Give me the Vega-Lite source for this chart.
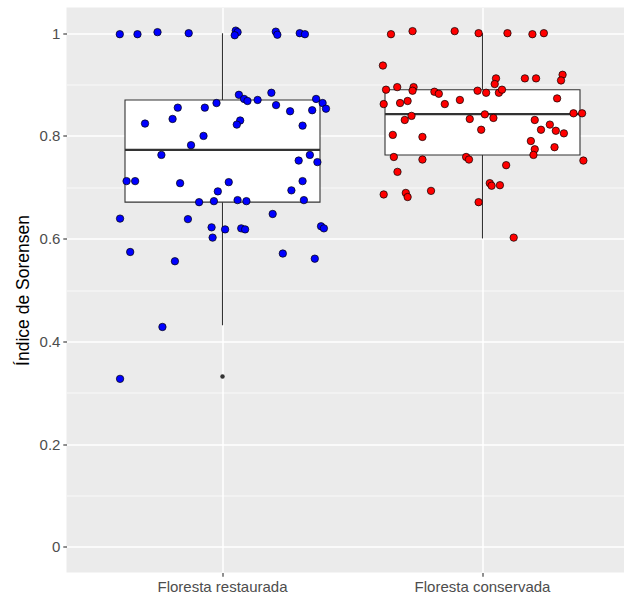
{
  "$schema": "https://vega.github.io/schema/vega-lite/v6.json",
  "width": 557.5,
  "height": 565,
  "autosize": {"type": "none"},
  "padding": {"left": 66.5, "top": 7.5, "right": 0, "bottom": 24.5},
  "background": "white",
  "config": {
    "view": {"fill": "#EBEBEB", "stroke": null},
    "axis": {
      "labelFont": "Liberation Sans",
      "titleFont": "Liberation Sans",
      "labelColor": "#4D4D4D",
      "labelFontSize": 15,
      "tickColor": "#333333",
      "tickSize": 3.7,
      "tickWidth": 1.1,
      "labelPadding": 2.9,
      "domain": false,
      "gridColor": "#FFFFFF",
      "gridWidth": 1.5
    }
  },
  "datasets": {
    "box": [
      {"grupo": "Floresta restaurada", "lower": 0.4315, "q1": 0.671, "median": 0.773, "q3": 0.870, "upper": 1.0},
      {"grupo": "Floresta conservada", "lower": 0.6004, "q1": 0.7627, "median": 0.8426, "q3": 0.890, "upper": 1.0}
    ],
    "outliers": [
      {"grupo": "Floresta restaurada", "valor": 0.3316}
    ],
    "pts": [
      {"grupo": "Floresta restaurada", "valor": 0.998, "jitter": -0.395},
      {"grupo": "Floresta restaurada", "valor": 0.998, "jitter": -0.327},
      {"grupo": "Floresta restaurada", "valor": 1.002, "jitter": -0.250},
      {"grupo": "Floresta restaurada", "valor": 1.000, "jitter": -0.130},
      {"grupo": "Floresta restaurada", "valor": 1.005, "jitter": 0.051},
      {"grupo": "Floresta restaurada", "valor": 1.002, "jitter": 0.058},
      {"grupo": "Floresta restaurada", "valor": 0.996, "jitter": 0.047},
      {"grupo": "Floresta restaurada", "valor": 1.003, "jitter": 0.205},
      {"grupo": "Floresta restaurada", "valor": 0.997, "jitter": 0.211},
      {"grupo": "Floresta restaurada", "valor": 1.000, "jitter": 0.297},
      {"grupo": "Floresta restaurada", "valor": 0.998, "jitter": 0.317},
      {"grupo": "Floresta restaurada", "valor": 0.880, "jitter": 0.063},
      {"grupo": "Floresta restaurada", "valor": 0.872, "jitter": 0.083},
      {"grupo": "Floresta restaurada", "valor": 0.868, "jitter": 0.096},
      {"grupo": "Floresta restaurada", "valor": 0.870, "jitter": 0.135},
      {"grupo": "Floresta restaurada", "valor": 0.884, "jitter": 0.188},
      {"grupo": "Floresta restaurada", "valor": 0.872, "jitter": 0.360},
      {"grupo": "Floresta restaurada", "valor": 0.864, "jitter": 0.385},
      {"grupo": "Floresta restaurada", "valor": 0.853, "jitter": 0.398},
      {"grupo": "Floresta restaurada", "valor": 0.855, "jitter": -0.172},
      {"grupo": "Floresta restaurada", "valor": 0.855, "jitter": -0.068},
      {"grupo": "Floresta restaurada", "valor": 0.864, "jitter": -0.023},
      {"grupo": "Floresta restaurada", "valor": 0.860, "jitter": 0.206},
      {"grupo": "Floresta restaurada", "valor": 0.848, "jitter": 0.260},
      {"grupo": "Floresta restaurada", "valor": 0.850, "jitter": 0.345},
      {"grupo": "Floresta restaurada", "valor": 0.824, "jitter": -0.298},
      {"grupo": "Floresta restaurada", "valor": 0.833, "jitter": -0.192},
      {"grupo": "Floresta restaurada", "valor": 0.830, "jitter": 0.068},
      {"grupo": "Floresta restaurada", "valor": 0.822, "jitter": 0.055},
      {"grupo": "Floresta restaurada", "valor": 0.820, "jitter": 0.308},
      {"grupo": "Floresta restaurada", "valor": 0.800, "jitter": -0.073},
      {"grupo": "Floresta restaurada", "valor": 0.782, "jitter": -0.121},
      {"grupo": "Floresta restaurada", "valor": 0.763, "jitter": -0.235},
      {"grupo": "Floresta restaurada", "valor": 0.752, "jitter": 0.293},
      {"grupo": "Floresta restaurada", "valor": 0.763, "jitter": 0.336},
      {"grupo": "Floresta restaurada", "valor": 0.749, "jitter": 0.365},
      {"grupo": "Floresta restaurada", "valor": 0.712, "jitter": -0.369},
      {"grupo": "Floresta restaurada", "valor": 0.712, "jitter": -0.336},
      {"grupo": "Floresta restaurada", "valor": 0.708, "jitter": -0.163},
      {"grupo": "Floresta restaurada", "valor": 0.710, "jitter": 0.024},
      {"grupo": "Floresta restaurada", "valor": 0.692, "jitter": -0.018},
      {"grupo": "Floresta restaurada", "valor": 0.712, "jitter": 0.308},
      {"grupo": "Floresta restaurada", "valor": 0.694, "jitter": 0.265},
      {"grupo": "Floresta restaurada", "valor": 0.671, "jitter": -0.090},
      {"grupo": "Floresta restaurada", "valor": 0.673, "jitter": -0.033},
      {"grupo": "Floresta restaurada", "valor": 0.675, "jitter": 0.058},
      {"grupo": "Floresta restaurada", "valor": 0.673, "jitter": 0.092},
      {"grupo": "Floresta restaurada", "valor": 0.675, "jitter": 0.313},
      {"grupo": "Floresta restaurada", "valor": 0.639, "jitter": -0.394},
      {"grupo": "Floresta restaurada", "valor": 0.638, "jitter": -0.133},
      {"grupo": "Floresta restaurada", "valor": 0.648, "jitter": 0.193},
      {"grupo": "Floresta restaurada", "valor": 0.622, "jitter": -0.042},
      {"grupo": "Floresta restaurada", "valor": 0.618, "jitter": 0.010},
      {"grupo": "Floresta restaurada", "valor": 0.620, "jitter": 0.072},
      {"grupo": "Floresta restaurada", "valor": 0.618, "jitter": 0.087},
      {"grupo": "Floresta restaurada", "valor": 0.624, "jitter": 0.379},
      {"grupo": "Floresta restaurada", "valor": 0.620, "jitter": 0.390},
      {"grupo": "Floresta restaurada", "valor": 0.602, "jitter": -0.038},
      {"grupo": "Floresta restaurada", "valor": 0.574, "jitter": -0.355},
      {"grupo": "Floresta restaurada", "valor": 0.556, "jitter": -0.183},
      {"grupo": "Floresta restaurada", "valor": 0.571, "jitter": 0.232},
      {"grupo": "Floresta restaurada", "valor": 0.561, "jitter": 0.355},
      {"grupo": "Floresta restaurada", "valor": 0.428, "jitter": -0.231},
      {"grupo": "Floresta restaurada", "valor": 0.327, "jitter": -0.394},
      {"grupo": "Floresta conservada", "valor": 0.998, "jitter": -0.352},
      {"grupo": "Floresta conservada", "valor": 1.004, "jitter": -0.269},
      {"grupo": "Floresta conservada", "valor": 1.004, "jitter": -0.107},
      {"grupo": "Floresta conservada", "valor": 1.000, "jitter": -0.015},
      {"grupo": "Floresta conservada", "valor": 1.000, "jitter": 0.096},
      {"grupo": "Floresta conservada", "valor": 0.998, "jitter": 0.192},
      {"grupo": "Floresta conservada", "valor": 1.000, "jitter": 0.236},
      {"grupo": "Floresta conservada", "valor": 0.937, "jitter": -0.383},
      {"grupo": "Floresta conservada", "valor": 0.912, "jitter": 0.052},
      {"grupo": "Floresta conservada", "valor": 0.901, "jitter": 0.047},
      {"grupo": "Floresta conservada", "valor": 0.912, "jitter": 0.163},
      {"grupo": "Floresta conservada", "valor": 0.912, "jitter": 0.206},
      {"grupo": "Floresta conservada", "valor": 0.919, "jitter": 0.308},
      {"grupo": "Floresta conservada", "valor": 0.908, "jitter": 0.302},
      {"grupo": "Floresta conservada", "valor": 0.890, "jitter": -0.371},
      {"grupo": "Floresta conservada", "valor": 0.895, "jitter": -0.328},
      {"grupo": "Floresta conservada", "valor": 0.895, "jitter": -0.265},
      {"grupo": "Floresta conservada", "valor": 0.888, "jitter": -0.269},
      {"grupo": "Floresta conservada", "valor": 0.886, "jitter": -0.185},
      {"grupo": "Floresta conservada", "valor": 0.882, "jitter": -0.168},
      {"grupo": "Floresta conservada", "valor": 0.888, "jitter": -0.019},
      {"grupo": "Floresta conservada", "valor": 0.884, "jitter": 0.014},
      {"grupo": "Floresta conservada", "valor": 0.884, "jitter": 0.063},
      {"grupo": "Floresta conservada", "valor": 0.890, "jitter": 0.075},
      {"grupo": "Floresta conservada", "valor": 0.862, "jitter": -0.380},
      {"grupo": "Floresta conservada", "valor": 0.864, "jitter": -0.317},
      {"grupo": "Floresta conservada", "valor": 0.868, "jitter": -0.288},
      {"grupo": "Floresta conservada", "valor": 0.862, "jitter": -0.145},
      {"grupo": "Floresta conservada", "valor": 0.870, "jitter": -0.087},
      {"grupo": "Floresta conservada", "valor": 0.873, "jitter": 0.287},
      {"grupo": "Floresta conservada", "valor": 0.844, "jitter": 0.350},
      {"grupo": "Floresta conservada", "valor": 0.844, "jitter": 0.383},
      {"grupo": "Floresta conservada", "valor": 0.839, "jitter": -0.273},
      {"grupo": "Floresta conservada", "valor": 0.831, "jitter": -0.299},
      {"grupo": "Floresta conservada", "valor": 0.842, "jitter": 0.009},
      {"grupo": "Floresta conservada", "valor": 0.833, "jitter": -0.049},
      {"grupo": "Floresta conservada", "valor": 0.835, "jitter": 0.042},
      {"grupo": "Floresta conservada", "valor": 0.831, "jitter": 0.201},
      {"grupo": "Floresta conservada", "valor": 0.822, "jitter": 0.259},
      {"grupo": "Floresta conservada", "valor": 0.812, "jitter": 0.225},
      {"grupo": "Floresta conservada", "valor": 0.810, "jitter": 0.282},
      {"grupo": "Floresta conservada", "valor": 0.805, "jitter": 0.313},
      {"grupo": "Floresta conservada", "valor": 0.812, "jitter": -0.005},
      {"grupo": "Floresta conservada", "valor": 0.802, "jitter": -0.345},
      {"grupo": "Floresta conservada", "valor": 0.798, "jitter": -0.231},
      {"grupo": "Floresta conservada", "valor": 0.790, "jitter": 0.186},
      {"grupo": "Floresta conservada", "valor": 0.774, "jitter": 0.201},
      {"grupo": "Floresta conservada", "valor": 0.763, "jitter": 0.196},
      {"grupo": "Floresta conservada", "valor": 0.778, "jitter": 0.277},
      {"grupo": "Floresta conservada", "valor": 0.759, "jitter": -0.341},
      {"grupo": "Floresta conservada", "valor": 0.754, "jitter": -0.231},
      {"grupo": "Floresta conservada", "valor": 0.759, "jitter": -0.063},
      {"grupo": "Floresta conservada", "valor": 0.754, "jitter": -0.052},
      {"grupo": "Floresta conservada", "valor": 0.752, "jitter": 0.388},
      {"grupo": "Floresta conservada", "valor": 0.743, "jitter": 0.091},
      {"grupo": "Floresta conservada", "valor": 0.730, "jitter": -0.327},
      {"grupo": "Floresta conservada", "valor": 0.686, "jitter": -0.380},
      {"grupo": "Floresta conservada", "valor": 0.689, "jitter": -0.295},
      {"grupo": "Floresta conservada", "valor": 0.681, "jitter": -0.288},
      {"grupo": "Floresta conservada", "valor": 0.693, "jitter": -0.198},
      {"grupo": "Floresta conservada", "valor": 0.708, "jitter": 0.028},
      {"grupo": "Floresta conservada", "valor": 0.703, "jitter": 0.035},
      {"grupo": "Floresta conservada", "valor": 0.704, "jitter": 0.067},
      {"grupo": "Floresta conservada", "valor": 0.671, "jitter": -0.015},
      {"grupo": "Floresta conservada", "valor": 0.602, "jitter": 0.120}
    ]
  },
  "encoding": {
    "x": {
      "field": "grupo",
      "type": "nominal",
      "scale": {
        "domain": ["Floresta restaurada", "Floresta conservada"],
        "range": [0, 572],
        "paddingInner": 0,
        "paddingOuter": 0.1
      },
      "axis": {"title": null, "labelAngle": 0, "grid": true, "bandPosition": 0.5}
    }
  },
  "layer": [
    {
      "data": {"name": "box"},
      "mark": {"type": "rule", "color": "#333333", "strokeWidth": 1.1},
      "encoding": {
        "y": {
          "field": "lower",
          "type": "quantitative",
          "scale": {"domain": [-0.05, 1.05], "nice": false, "zero": false},
          "axis": {
            "orient": "left",
            "values": [0.1, 0.3, 0.5, 0.7, 0.9],
            "grid": true,
            "gridWidth": 0.75,
            "labels": false,
            "ticks": false,
            "title": null
          }
        },
        "y2": {"field": "upper"}
      }
    },
    {
      "data": {"name": "box"},
      "mark": {"type": "bar", "width": 195, "fill": "white", "stroke": "#333333", "strokeWidth": 1.1},
      "encoding": {
        "y": {"field": "q1", "type": "quantitative", "axis": null},
        "y2": {"field": "q3"}
      }
    },
    {
      "data": {"name": "box"},
      "mark": {"type": "tick", "size": 195, "thickness": 2.2, "color": "#333333", "opacity": 1},
      "encoding": {
        "y": {"field": "median", "type": "quantitative", "axis": null}
      }
    },
    {
      "data": {"name": "outliers"},
      "mark": {"type": "circle", "size": 20, "color": "#333333", "opacity": 1},
      "encoding": {
        "y": {"field": "valor", "type": "quantitative", "axis": null}
      }
    },
    {
      "data": {"name": "pts"},
      "mark": {"type": "point", "filled": true, "size": 55, "stroke": "black", "strokeWidth": 0.7, "opacity": 1},
      "encoding": {
        "xOffset": {"field": "jitter", "type": "quantitative", "scale": {"domain": [-0.5, 0.5], "range": [0, 260]}},
        "y": {
          "field": "valor",
          "type": "quantitative",
          "axis": {
            "orient": "left",
            "values": [0, 0.2, 0.4, 0.6, 0.8, 1],
            "format": "~g",
            "grid": true,
            "title": "Índice de Sorensen",
            "titleFontSize": 17.5,
            "titleFontWeight": "normal",
            "titleColor": "#000000",
            "titleAngle": 270,
            "titleBaseline": "middle",
            "titleX": -43,
            "titleY": 282.5
          }
        },
        "color": {
          "field": "grupo",
          "type": "nominal",
          "scale": {"domain": ["Floresta restaurada", "Floresta conservada"], "range": ["#0000FF", "#FF0000"]},
          "legend": null
        }
      }
    }
  ],
  "resolve": {"axis": {"y": "independent"}}
}
